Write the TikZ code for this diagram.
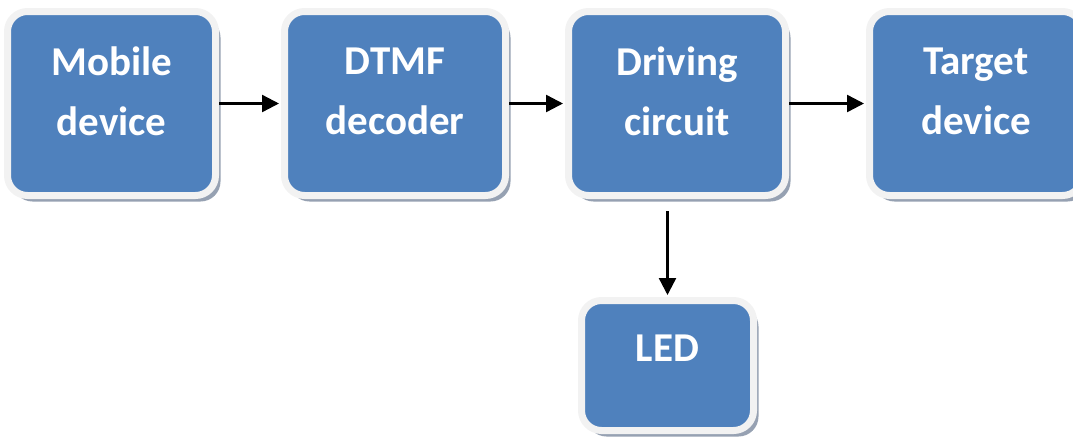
\documentclass[tikz,border=0pt]{standalone}
\usepackage{fontspec}
\setmainfont{Carlito}
\usetikzlibrary{arrows.meta,shadows}
\definecolor{boxblue}{RGB}{79,129,189}
\definecolor{boxrim}{RGB}{242,242,242}
\definecolor{boxshade}{RGB}{150,161,178}

\begin{document}
\begin{tikzpicture}[x=1pt,y=-1pt,
  blk/.style={draw=boxrim,fill=boxblue,line width=7pt,rounded corners=20pt,inner sep=0pt,
    drop shadow={shadow xshift=5pt,shadow yshift=-6pt,fill=boxshade,opacity=1}},
  lbl/.style={text=white,font=\fontsize{41}{60}\selectfont\bfseries,align=center},
  link/.style={line width=2.4pt,shorten >=2pt,-{Triangle[length=17pt,width=17pt]}}]
\useasboundingbox (0,0) rectangle (1073,437);
\node[blk,minimum width=208pt,minimum height=184pt] (mob) at (111.5,103.5) {};
\node[blk,minimum width=221pt,minimum height=184pt] (dec) at (395,103.5) {};
\node[blk,minimum width=217pt,minimum height=184pt] (drv) at (677,103.5) {};
\node[blk,minimum width=213pt,minimum height=184pt] (tgt) at (976,103.5) {};
\node[blk,minimum width=172pt,minimum height=130pt] (led) at (667.5,365.5) {};
\node[lbl] (mobt) at ([yshift=12pt]mob.center) {Mobile\\device};
\node[lbl] (dect) at ([yshift=12pt]dec.center) {DTMF\\decoder};
\node[lbl] (drvt) at ([yshift=12pt]drv.center) {Driving\\circuit};
\node[lbl] (tgtt) at ([yshift=12pt]tgt.center) {Target\\device};
\node[lbl] (ledt) at ([yshift=17pt]led.center) {LED};
\draw[link] (mob.east) -- (dec.west);
\draw[link] (dec.east) -- (drv.west);
\draw[link] (drv.east) -- (tgt.west);
\draw[link,shorten <=12pt] (led.north |- drv.south) -- (led.north);
\end{tikzpicture}
\end{document}
